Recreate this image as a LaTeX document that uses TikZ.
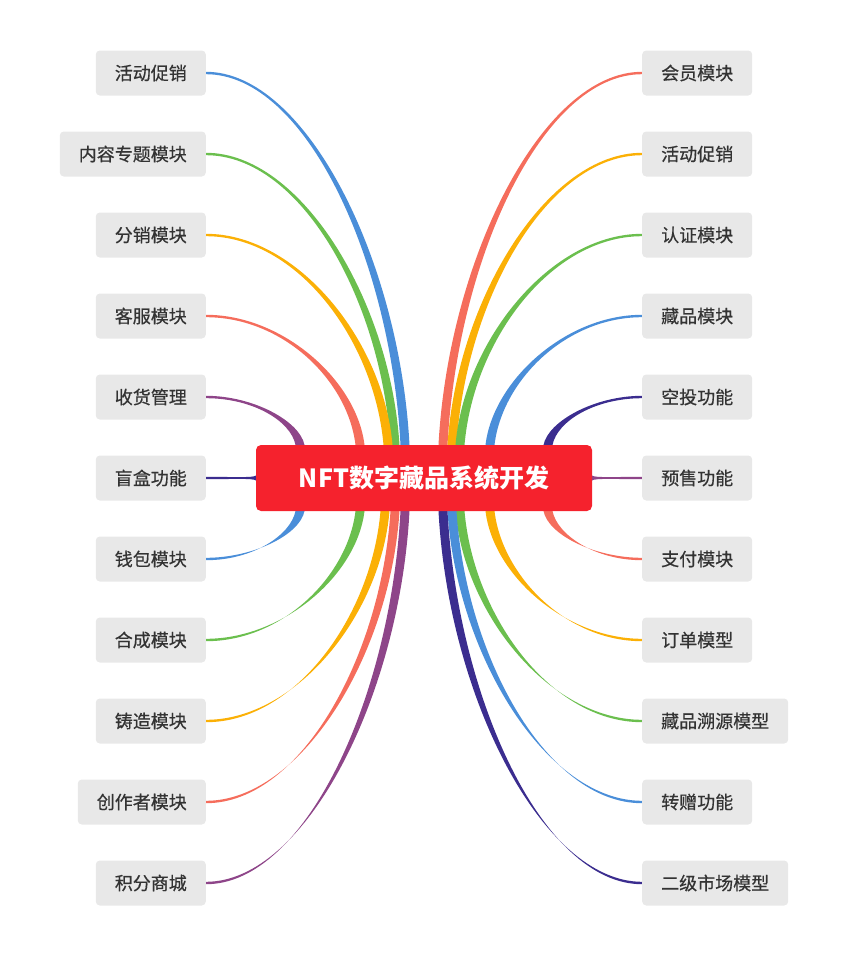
\documentclass[tikz,border=0pt]{standalone}
\usepackage{fontspec}
\setmainfont{Noto Sans CJK SC}
\newfontfamily\leaffont[FakeBold=0.5]{Noto Sans CJK SC}
\usetikzlibrary{positioning, backgrounds}
\definecolor{cblue}{HTML}{4A8ED9}
\definecolor{cgreen}{HTML}{6BBF4E}
\definecolor{corange}{HTML}{FBB006}
\definecolor{cred}{HTML}{F56D5C}
\definecolor{cpurple}{HTML}{8E4589}
\definecolor{cindigo}{HTML}{3B2D8F}
\definecolor{rootred}{HTML}{F5222D}
\definecolor{leafgray}{HTML}{E8E8E8}

\begin{document}
\begin{tikzpicture}[x=1pt,y=-1pt,
        leaf/.style={fill=leafgray,rounded corners=4pt,minimum height=45pt,
            inner xsep=19pt,font=\leaffont\fontsize{18}{21}\selectfont,text=black!80},
        rootbox/.style={fill=rootred,rounded corners=5pt,minimum width=336pt,
            minimum height=66pt,font=\fontsize{25}{30}\selectfont\bfseries,text=white}]
    \useasboundingbox (0,0) rectangle (848,956);

    \node[rootbox] (root) at (424,478) {NFT数字藏品系统开发};

    % left side
    \foreach \i/\txt/\col/\ex/\ey in {1/活动促销/cblue/405/445, 2/内容专题模块/cgreen/395/445,
            3/分销模块/corange/388/445, 4/客服模块/cred/360/445, 5/收货管理/cpurple/300/445,
            6/盲盒功能/cindigo/256/478, 7/钱包模块/cblue/300/511, 8/合成模块/cgreen/360/511,
            9/铸造模块/corange/385/511, 10/创作者模块/cred/395/511, 11/积分商城/cpurple/405/511}{
        \node[leaf,anchor=east] (l\i) at (206,{73+81*(\i-1)}) {\txt};
        \pgfmathsetmacro{\ox}{\ey==478 ? 0 : 4.5}
        \pgfmathsetmacro{\oy}{\ey==478 ? 2.5 : 0}
        \begin{scope}[on background layer]
            \coordinate (le\i) at (\ex,\ey);
            \fill[\col] ([yshift=1.2pt]l\i.east) .. controls ({206+0.5*(\ex-206)},{73+81*(\i-1)-1.2})
                and ({\ex-0.05*(\ex-206)+\ox},{(73+81*(\i-1)+\ey)/2}) .. ([shift={(\ox,-\oy)}]le\i)
                -- ([shift={(-\ox,\oy)}]le\i)
                .. controls ({\ex-0.05*(\ex-206)-\ox},{(73+81*(\i-1)+\ey)/2})
                and ({206+0.5*(\ex-206)},{73+81*(\i-1)+1.2}) .. ([yshift=-1.2pt]l\i.east) -- cycle;
        \end{scope}
    }

    % right side
    \foreach \i/\txt/\col/\ex/\ey in {1/会员模块/cred/443/445, 2/活动促销/corange/452/445,
            3/认证模块/cgreen/460/445, 4/藏品模块/cblue/490/445, 5/空投功能/cindigo/548/445,
            6/预售功能/cpurple/592/478, 7/支付模块/cred/548/511, 8/订单模型/corange/490/511,
            9/藏品溯源模型/cgreen/460/511, 10/转赠功能/cblue/452/511, 11/二级市场模型/cindigo/443/511}{
        \node[leaf,anchor=west] (r\i) at (642,{73+81*(\i-1)}) {\txt};
        \pgfmathsetmacro{\ox}{\ey==478 ? 0 : 4.5}
        \pgfmathsetmacro{\oy}{\ey==478 ? 2.5 : 0}
        \begin{scope}[on background layer]
            \coordinate (re\i) at (\ex,\ey);
            \fill[\col] ([yshift=1.2pt]r\i.west) .. controls ({642-0.5*(642-\ex)},{73+81*(\i-1)-1.2})
                and ({\ex+0.05*(642-\ex)-\ox},{(73+81*(\i-1)+\ey)/2}) .. ([shift={(-\ox,-\oy)}]re\i)
                -- ([shift={(\ox,\oy)}]re\i)
                .. controls ({\ex+0.05*(642-\ex)+\ox},{(73+81*(\i-1)+\ey)/2})
                and ({642-0.5*(642-\ex)},{73+81*(\i-1)+1.2}) .. ([yshift=-1.2pt]r\i.west) -- cycle;
        \end{scope}
    }
\end{tikzpicture}
\end{document}
